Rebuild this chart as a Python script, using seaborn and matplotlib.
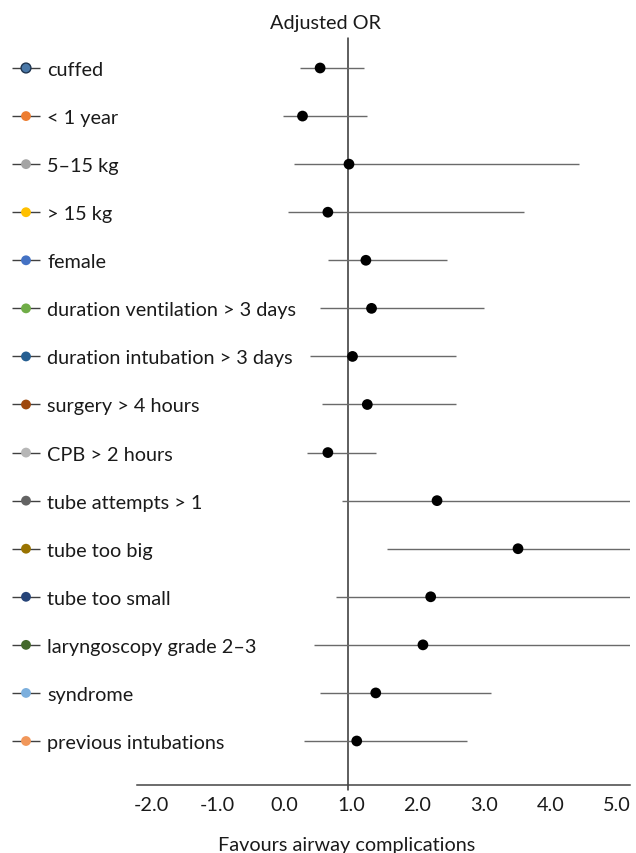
import matplotlib
matplotlib.use('Agg')
import matplotlib.pyplot as plt
import matplotlib.transforms as mtransforms
import pandas as pd
import seaborn as sns

sns.set_style('white')
plt.rcParams['font.family'] = ['Lato', 'DejaVu Sans']

# values (adjusted OR, lower and upper bound)
factors = [
    'cuffed', '< 1 year', '5–15 kg', '> 15 kg', 'female',
    'duration ventilation > 3 days', 'duration intubation > 3 days',
    'surgery > 4 hours', 'CPB > 2 hours', 'tube attempts > 1',
    'tube too big', 'tube too small', 'laryngoscopy grade 2–3',
    'syndrome', 'previous intubations',
]
odds_ratio = [0.60, 0.35, 1.01, 0.71, 1.25, 1.33, 1.06, 1.27, 0.71,
              2.26, 3.41, 2.17, 2.06, 1.39, 1.12]
ci_low = [0.32, 0.08, 0.23, 0.15, 0.71, 0.60, 0.45, 0.62, 0.41,
          0.91, 1.55, 0.82, 0.51, 0.60, 0.37]
ci_high = [1.23, 1.27, 4.27, 3.49, 2.40, 2.92, 2.53, 2.53, 1.40,
           5.60, 6.50, 5.80, 6.00, 3.02, 2.69]
factor_colors = ['#4a78a8', '#ed7d31', '#a5a5a5', '#ffc000', '#4472c4',
                 '#70ad47', '#255e91', '#9e480e', '#b7b7b7', '#636363',
                 '#997300', '#264478', '#43682b', '#7cafdd', '#f1975a']
x_ticks = [-2.0, -1.0, 0.0, 1.0, 2.0, 3.0, 4.0, 5.0]

FS = 14.3

df = pd.DataFrame({
    'factor': factors,
    'OR': odds_ratio,
    'low': ci_low,
    'high': ci_high,
})
df['row'] = range(len(df))

W, H = 636, 854
fig = plt.figure(figsize=(W / 100, H / 100), dpi=100)
ax = fig.add_axes([137 / W, (H - 785.7) / H, (630 - 137) / W, (785.7 - 39) / H])
ax_lab = fig.add_axes([0, (H - 785.7) / H, 137 / W, (785.7 - 39) / H])

ylim = (len(df) - 1 + 0.909, -0.624)

# confidence intervals and point estimates
ax.hlines(df['row'], df['low'], df['high'], color='#6a6a6a', linewidth=1.0, zorder=2)
sns.scatterplot(data=df, x='OR', y='row', ax=ax, color='black', s=60,
                edgecolor='none', zorder=3, legend=False)
ax.axvline(1.0, ymin=-0.007, ymax=1, color='#333333', linewidth=1.1,
           clip_on=False, zorder=1)

ax.set_xlim(-2.0, 5.0)
ax.set_ylim(*ylim)
ax.set_xticks(x_ticks)
ax.set_xticklabels([f'{t:.1f}' for t in x_ticks], fontsize=FS, color='#1a1a1a')
ax.tick_params(axis='x', length=0, pad=8)
# the reference spreads its tick labels a little tighter than the ticks
for i, lbl in enumerate(ax.get_xticklabels()):
    dx = (10 - 2.74 * i) / 72
    lbl.set_transform(lbl.get_transform() +
                      mtransforms.ScaledTranslation(dx, 0, fig.dpi_scale_trans))
ax.set_yticks([])
ax.set_xlabel('')
ax.set_ylabel('')
for side in ['top', 'right', 'left']:
    ax.spines[side].set_visible(False)
ax.spines['bottom'].set_color('#444444')
ax.spines['bottom'].set_linewidth(1.1)

# left-hand legend style labels
ax_lab.set_xlim(0, 137)
ax_lab.set_ylim(*ylim)
ax_lab.axis('off')
ax_lab.hlines(df['row'], 12, 40, color='#404040', linewidth=1.0, zorder=1)
sns.scatterplot(data=df, x=[26] * len(df), y='row', hue='factor',
                palette=factor_colors, ax=ax_lab, s=50, edgecolor='none',
                zorder=2, legend=False)
ax_lab.collections[-1].set_edgecolors(['#1f3550'] + ['none'] * (len(df) - 1))
ax_lab.collections[-1].set_linewidths([1.0] + [0] * (len(df) - 1))
for _, r in df.iterrows():
    ax_lab.text(47, r['row'], r['factor'], fontsize=FS, color='#1a1a1a',
                va='center_baseline', ha='left', clip_on=False)

fig.text(326 / W, 1 - 24 / H, 'Adjusted OR', ha='center', va='center',
         fontsize=FS, color='#1a1a1a')
fig.text(347 / W, 1 - 846 / H, 'Favours airway complications', ha='center',
         va='center', fontsize=FS, color='#1a1a1a')

fig.savefig('out.png', dpi=100)
